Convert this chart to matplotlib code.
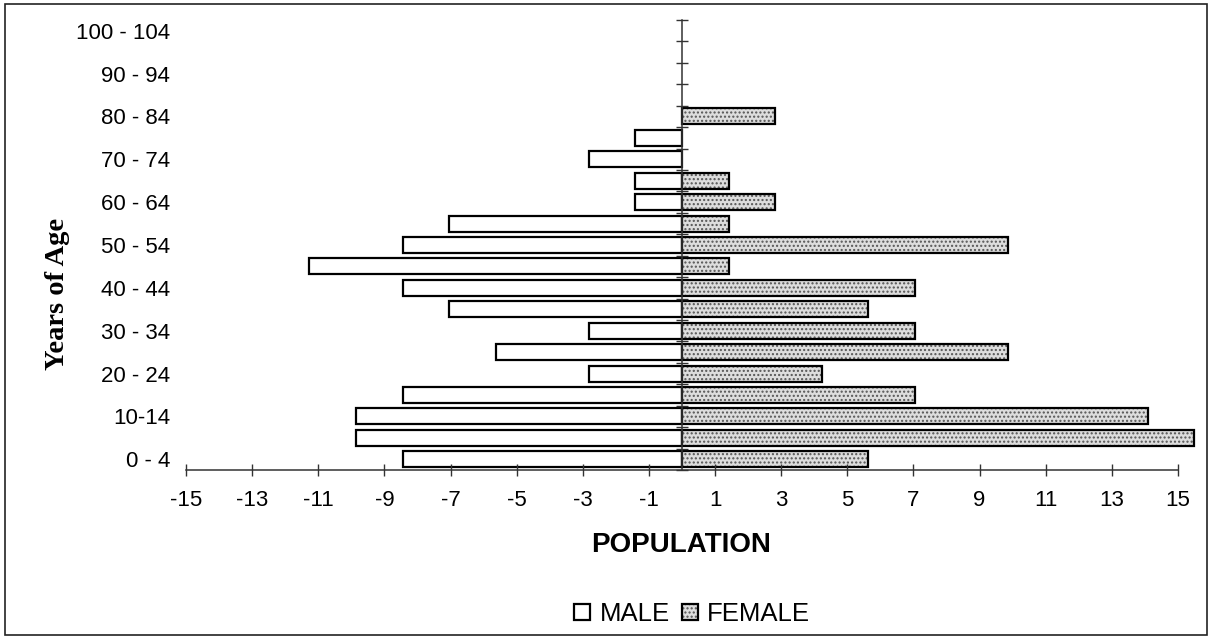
import matplotlib
matplotlib.use('Agg')
import matplotlib.pyplot as plt
from matplotlib.patches import Rectangle
from matplotlib.legend_handler import HandlerTuple
import numpy as np

plt.rcParams['font.family'] = ['Liberation Sans', 'DejaVu Sans']

# age groups, bottom to top
age_groups = ['0 - 4', '5 - 9', '10-14', '15 - 19', '20 - 24', '25 - 29', '30 - 34',
              '35 - 39', '40 - 44', '45 - 49', '50 - 54', '55 - 59', '60 - 64',
              '65 - 69', '70 - 74', '75 - 79', '80 - 84', '85 - 89', '90 - 94',
              '95 - 99', '100 - 104']
# percent of population (male shown on the left)
male = [-8.45, -9.86, -9.86, -8.45, -2.82, -5.63, -2.82, -7.04, -8.45, -11.27, -8.45,
        -7.04, -1.41, -1.41, -2.82, -1.41, 0, 0, 0, 0, 0]
female = [5.63, 15.49, 14.08, 7.04, 4.23, 9.86, 7.04, 5.63, 7.04, 1.41, 9.86,
          1.41, 2.82, 1.41, 0, 0, 2.82, 0, 0, 0, 0]
x_ticks = list(range(-15, 16, 2))

fig = plt.figure(figsize=(12.12, 6.38), dpi=100)
ax = fig.add_axes([186 / 1212, 1 - 470 / 638, 992 / 1212, 450 / 638])

y = np.arange(len(age_groups))
male = np.array(male)
female = np.array(female)
# skip empty groups so no zero-width outlines get drawn
m_idx = male != 0
f_idx = female != 0

male_bars = ax.barh(y[m_idx], male[m_idx], height=0.75, color='white',
                    edgecolor='black', linewidth=1.6)
# female: dotted grey fill, then a black outline on top
fem_fill = ax.barh(y[f_idx], female[f_idx], height=0.75, color='#dddddd',
                   edgecolor='#555555', hatch='....', linewidth=0)
fem_edge = ax.barh(y[f_idx], female[f_idx], height=0.75, color='none',
                   edgecolor='black', linewidth=1.6)
for b in list(fem_fill) + list(fem_edge):
    b.set_clip_on(False)

ax.set_xlim(-15, 15)
ax.set_ylim(-0.5, len(age_groups) - 0.5)

# spines: bottom axis, centre vertical axis at x=0
ax.spines['top'].set_visible(False)
ax.spines['left'].set_visible(False)
ax.spines['right'].set_position(('data', 0))
for s in ['bottom', 'right']:
    ax.spines[s].set_color('#333333')
    ax.spines[s].set_linewidth(1.1)

ax.set_xticks(x_ticks)
ax.set_xticklabels([str(t) for t in x_ticks])
ax.tick_params(axis='x', direction='inout', length=8.6, width=1.0, color='#333333',
               labelsize=16, pad=10)

ax.set_yticks(y[::2])
ax.set_yticklabels(age_groups[::2])
ax.set_yticks(np.arange(-0.5, len(age_groups), 1.0), minor=True)
ax.tick_params(axis='y', which='major', left=False, right=False, labelleft=True,
               labelsize=16, pad=8)
ax.tick_params(axis='y', which='minor', left=False, right=True, direction='inout',
               length=8.6, width=1.0, color='#333333')

ax.set_xlabel('POPULATION', fontsize=20, fontweight='bold', va='center')
ax.xaxis.set_label_coords(0.499, -0.1667)
ax.set_ylabel('Years of Age', fontsize=20.5, fontweight='bold',
              family='Liberation Serif', va='center')
ax.yaxis.set_label_coords(-0.130, 0.391)

fig.legend([male_bars[0], (fem_fill[0], fem_edge[0])], ['MALE', 'FEMALE'],
           handler_map={tuple: HandlerTuple(ndivide=1, pad=0)},
           loc='center', bbox_to_anchor=(692 / 1212, 1 - 614 / 638), ncol=2,
           frameon=False, fontsize=18.5, handlelength=0.62, handleheight=0.62,
           handletextpad=0.35, columnspacing=0.47, borderaxespad=0)

# outer chart border
fig.patches.append(Rectangle((5 / 1212, 3 / 638), 1202 / 1212, 631 / 638,
                             transform=fig.transFigure, fill=False,
                             edgecolor='#222222', linewidth=1.2))

fig.savefig('out.png', dpi=100)
